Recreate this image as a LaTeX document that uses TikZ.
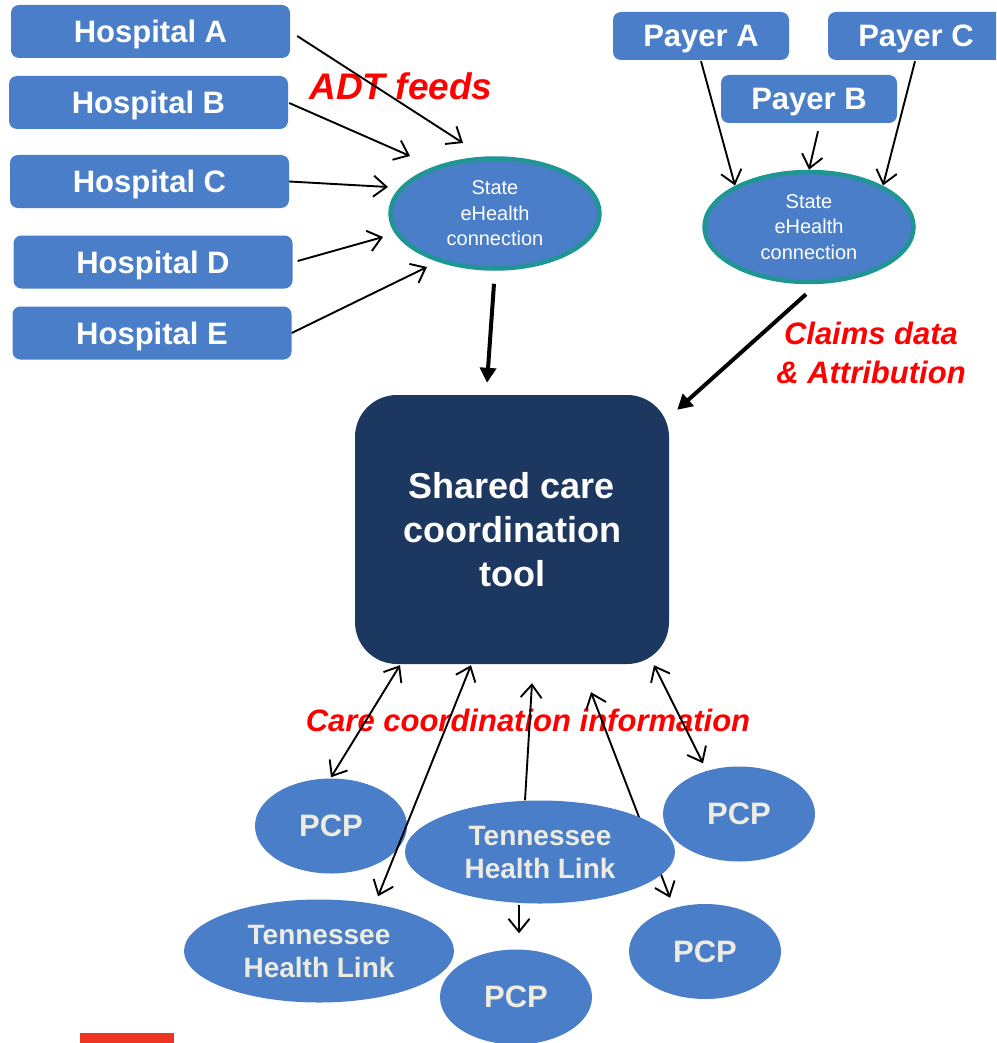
\documentclass[tikz,border=0pt]{standalone}
\usepackage{fontspec}
\setmainfont{Liberation Sans}
\usetikzlibrary{arrows.meta,calc,shapes.geometric}
\definecolor{boxblue}{HTML}{4A7EC8}
\definecolor{tealline}{HTML}{1F9693}
\definecolor{navy}{HTML}{1C3760}
\definecolor{labred}{HTML}{FF0000}
\definecolor{cream}{HTML}{EEECE1}
\definecolor{barred}{HTML}{EE3524}
\tikzset{
  srcbox/.style={rectangle, rounded corners=8pt, fill=boxblue, text=white, inner sep=0pt,
    text depth=0pt, font={\fontsize{31}{36}\selectfont\bfseries}},
  hospbox/.style={srcbox, minimum width=279pt, minimum height=53pt},
  payerbox/.style={srcbox, minimum width=176pt, minimum height=48pt},
  stateell/.style={ellipse, fill=boxblue, draw=tealline, line width=4.5pt, inner sep=0pt,
    minimum width=209pt, minimum height=110pt, text=white, align=center,
    font={\fontsize{20}{25.5}\selectfont}},
  toolbox/.style={rectangle, rounded corners=42pt, fill=navy, text=white, align=center,
    minimum width=314pt, minimum height=269pt, inner sep=0pt,
    font={\fontsize{36}{44}\selectfont\bfseries}},
  careell/.style={ellipse, fill=boxblue, text=cream, inner sep=0pt, align=center,
    font={\fontsize{28}{33}\selectfont\bfseries}},
  pcpell/.style={careell, minimum width=152pt, minimum height=95pt,
    font={\fontsize{31}{36}\selectfont\bfseries}},
  thlell/.style={careell, minimum width=270pt, minimum height=103pt},
  redlabel/.style={text=labred, inner sep=0pt, align=center,
    font={\fontsize{31}{39}\selectfont\bfseries\itshape}},
  thinarrow/.style={draw=black, line width=1.9pt, -{Straight Barb[length=13pt,width=21pt]}},
  dblarrow/.style={draw=black, line width=1.9pt,
    {Straight Barb[length=13pt,width=21pt]}-{Straight Barb[length=13pt,width=21pt]}},
  thickarrow/.style={draw=black, line width=4pt, -{Triangle[length=15pt,width=16pt]}}
}
\begin{document}
\begin{tikzpicture}[x=1pt,y=-1pt]
\clip (0,0) rectangle (996,1043);
\fill[white] (0,0) rectangle (996,1043);

% hospitals
\node[hospbox] (hA) at (150.5,31.5) {Hospital A};
\node[hospbox] (hB) at (148.5,102.5) {Hospital B};
\node[hospbox] (hC) at (149.5,181.5) {Hospital C};
\node[hospbox] (hD) at (153,262) {Hospital D};
\node[hospbox] (hE) at (152,333) {Hospital E};

% payers
\node[payerbox] (pA) at (701,36) {Payer A};
\node[payerbox] (pB) at (809,99) {Payer B};
\node[payerbox] (pC) at (916,36) {Payer C};

% state eHealth connections
\node[stateell] (sl) at (495,213.5) {State\\eHealth\\connection};
\node[stateell] (sr) at (809,227) {State\\eHealth\\connection};

% tool
\node[toolbox] (tool) at (512,529.5) {Shared care\\coordination\\tool};

% labels
\node[redlabel, font={\fontsize{37}{40}\selectfont\bfseries\itshape}] (adt) at (401,86) {ADT feeds};
\node[redlabel] (claims) at (871,353) {Claims data\\\& Attribution};
\node[redlabel] (care) at (528,720) {Care coordination information};

% arrow behind central THL
\node[pcpell] (pcp4) at (705,951.5) {PCP};
\draw[dblarrow] ($(tool.south)+(79,28)$) -- ($(pcp4.north)+(-35,-6)$);

% care ellipses
\node[pcpell] (pcp1) at (331,826) {PCP};
\node[thlell] (thl1) at (540,852) {Tennessee\\Health Link};
\node[pcpell] (pcp2) at (739,814) {PCP};
\node[thlell] (thl2) at (319,951) {Tennessee\\Health Link};
\node[pcpell] (pcp3) at (516,997) {PCP};

% hospital feeds
\draw[thinarrow] ($(hA.east)+(7,4.5)$) -- ($(sl.center)+(-32,-70.5)$);
\draw[thinarrow] ($(hB.east)+(1,0.5)$) -- ($(sl.center)+(-85,-57.5)$);
\draw[thinarrow] (hC.east) -- ($(sl.center)+(-107,-26.5)$);
\draw[thinarrow] ($(hD.east)+(5,-1)$) -- ($(sl.center)+(-112,23.5)$);
\draw[thinarrow] (hE.east) -- ($(sl.center)+(-68,53.5)$);

% payer feeds
\draw[thinarrow] ($(pA.south)+(0,1)$) -- ($(sr.center)+(-74,-41.5)$);
\draw[thinarrow] ($(pB.south)+(9,8)$) -- (sr.north);
\draw[thinarrow] ($(pC.south)+(-1,1)$) -- ($(sr.center)+(74,-41.5)$);

% thick arrows
\draw[thickarrow] ($(sl.south)+(-1,13)$) -- ($(tool.north)+(-25,-12)$);
\draw[thickarrow] ($(sr.south)+(-3,10)$) -- ($(tool.north east)+(8,15)$);

% care coordination arrows
\draw[dblarrow] ($(tool.south)+(-112,1)$) -- ($(pcp1.north)+(0,-1)$);
\draw[dblarrow] ($(tool.south)+(-41,1)$) -- ($(thl2.north)+(59,-3)$);
\draw[thinarrow] ($(thl1.north)+(-15,0)$) -- ($(tool.south)+(20,19)$);
\draw[thinarrow] ($(thl1.south)+(-21,1)$) -- ($(pcp3.north)+(3,-16)$);
\draw[dblarrow] ($(tool.south)+(142,1)$) -- ($(pcp2.north)+(-36,-3)$);

% red bar
\fill[barred] (80,1033) rectangle (174,1043);
\end{tikzpicture}
\end{document}
